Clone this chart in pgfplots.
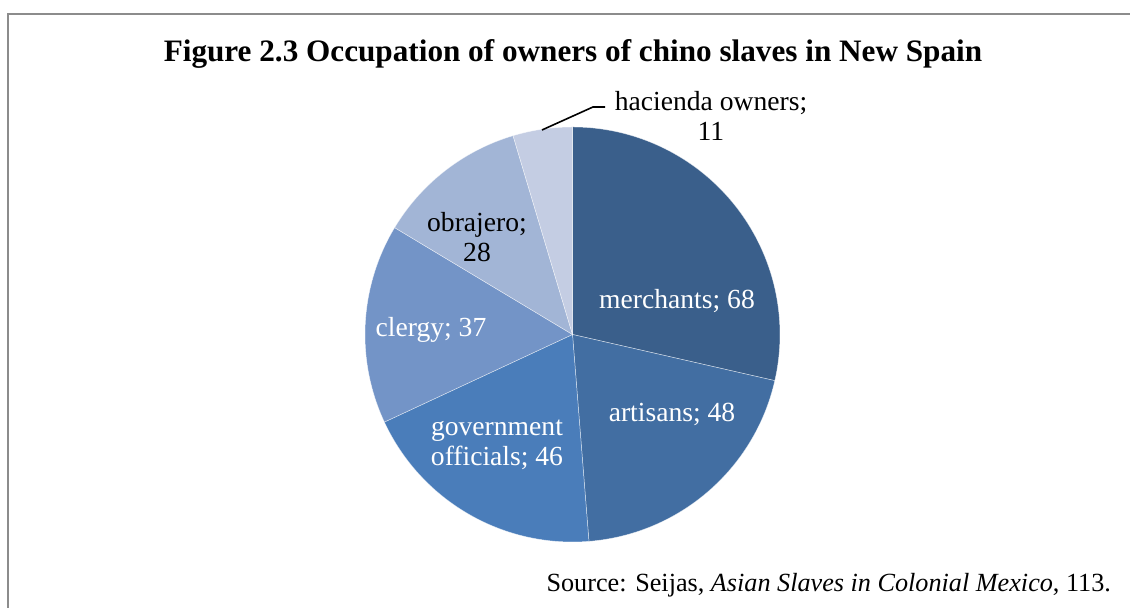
\documentclass[border=0pt]{standalone}
\usepackage{pgfplots}
\pgfplotsset{compat=1.18}
\usepackage{fontspec}
\setmainfont{Liberation Serif}
\definecolor{cA}{HTML}{3A5F8B}
\definecolor{cB}{HTML}{426EA2}
\definecolor{cC}{HTML}{4A7DBA}
\definecolor{cD}{HTML}{7394C7}
\definecolor{cE}{HTML}{A2B5D6}
\definecolor{cF}{HTML}{C4CDE3}
\definecolor{frame}{HTML}{8C8C8C}
% data: merchants, artisans, government officials, clergy, obrajero, hacienda owners
\def\vA{68}\def\vB{48}\def\vC{46}\def\vD{37}\def\vE{28}\def\vF{11}
\begin{document}
\begin{tikzpicture}
\pgfmathsetmacro\tot{\vA+\vB+\vC+\vD+\vE+\vF}
\pgfmathsetmacro\aA{90}
\pgfmathsetmacro\aB{\aA-360*(\vA/\tot)}
\pgfmathsetmacro\aC{\aB-360*(\vB/\tot)}
\pgfmathsetmacro\aD{\aC-360*(\vC/\tot)}
\pgfmathsetmacro\aE{\aD-360*(\vD/\tot)}
\pgfmathsetmacro\aF{\aE-360*(\vE/\tot)}
\pgfmathsetmacro\aG{\aF-360*(\vF/\tot)}
\def\R{103.75pt}
\begin{axis}[x=0.5pt,y=0.5pt,xmin=0,xmax=1130,ymin=0,ymax=608,hide axis,scale only axis,clip=false]
\tikzset{sl/.style={draw=white,draw opacity=0.6,line width=0.25pt}}
\fill[cA,sl] (axis cs:572.5,273.5) -- ++(\aA:\R) arc[start angle=\aA,end angle=\aB,radius=\R] -- cycle;
\fill[cB,sl] (axis cs:572.5,273.5) -- ++(\aB:\R) arc[start angle=\aB,end angle=\aC,radius=\R] -- cycle;
\fill[cC,sl] (axis cs:572.5,273.5) -- ++(\aC:\R) arc[start angle=\aC,end angle=\aD,radius=\R] -- cycle;
\fill[cD,sl] (axis cs:572.5,273.5) -- ++(\aD:\R) arc[start angle=\aD,end angle=\aE,radius=\R] -- cycle;
\fill[cE,sl] (axis cs:572.5,273.5) -- ++(\aE:\R) arc[start angle=\aE,end angle=\aF,radius=\R] -- cycle;
\fill[cF,sl] (axis cs:572.5,273.5) -- ++(\aF:\R) arc[start angle=\aF,end angle=\aG,radius=\R] -- cycle;
% frame
\draw[frame,line width=1pt] (axis cs:7.5,0) -- (axis cs:7.5,594) -- (axis cs:1130,594);
% title
\node[font=\fontsize{15.6}{18}\selectfont\bfseries] at (axis cs:573,554) {Figure 2.3 Occupation of owners of chino slaves in New Spain};
% labels
\tikzset{lab/.style={font=\fontsize{13.8}{15}\selectfont,align=center}}
\node[lab,white] at (axis cs:677,307) {merchants; \vA};
\node[lab,white] at (axis cs:672,194) {artisans; \vB};
\node[lab,white] at (axis cs:497,163) {government\\officials; \vC};
\node[lab,white] at (axis cs:431,278) {clergy; \vD};
\node[lab,black] at (axis cs:477,371) {obrajero;\\\vE};
\node[lab,black] at (axis cs:711,492) {hacienda owners;\\\vF};
\draw[black,line width=0.8pt] (axis cs:542,478) -- (axis cs:593,501) -- (axis cs:605,501);
% source
\node[font=\fontsize{13.1}{15}\selectfont,anchor=base east] at (axis cs:1118,16) {Source: Seijas, \textit{Asian Slaves in Colonial Mexico}, 113.};
\end{axis}
\pgfresetboundingbox
\path (0,0) rectangle (565pt,304pt);
\end{tikzpicture}
\end{document}
